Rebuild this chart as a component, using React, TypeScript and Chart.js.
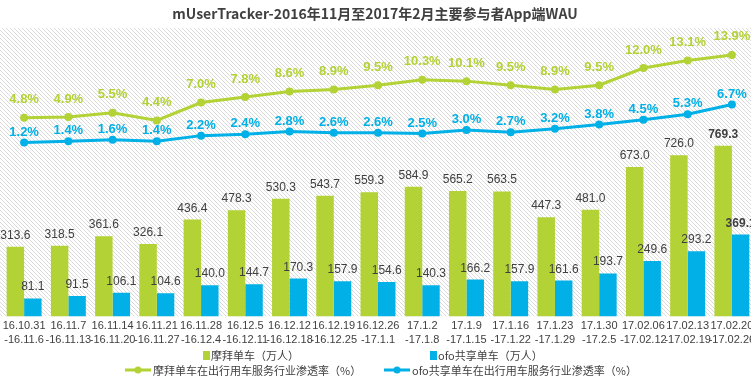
import React, { useEffect, useRef } from 'react';
import { Chart, registerables } from 'chart.js';

Chart.register(...registerables);

const TITLE = 'mUserTracker-2016年11月至2017年2月主要参与者App端WAU';

const weekStart = ['16.10.31', '16.11.7', '16.11.14', '16.11.21', '16.11.28', '16.12.5', '16.12.12', '16.12.19', '16.12.26', '17.1.2', '17.1.9', '17.1.16', '17.1.23', '17.1.30', '17.02.06', '17.02.13', '17.02.20'];
const weekEnd = ['-16.11.6', '-16.11.13', '-16.11.20', '-16.11.27', '-16.12.4', '-16.12.11', '-16.12.18', '-16.12.25', '-17.1.1', '-17.1.8', '-17.1.15', '-17.1.22', '-17.1.29', '-17.2.5', '-17.02.12', '-17.02.19', '-17.02.26'];

const mobikeUsers = [313.6, 318.5, 361.6, 326.1, 436.4, 478.3, 530.3, 543.7, 559.3, 584.9, 565.2, 563.5, 447.3, 481.0, 673.0, 726.0, 769.3];
const ofoUsers = [81.1, 91.5, 106.1, 104.6, 140.0, 144.7, 170.3, 157.9, 154.6, 140.3, 166.2, 157.9, 161.6, 193.7, 249.6, 293.2, 369.1];
const mobikeRate = [4.8, 4.9, 5.5, 4.4, 7.0, 7.8, 8.6, 8.9, 9.5, 10.3, 10.1, 9.5, 8.9, 9.5, 12.0, 13.1, 13.9];
const ofoRate = [1.2, 1.4, 1.6, 1.4, 2.2, 2.4, 2.8, 2.6, 2.6, 2.5, 3.0, 2.7, 3.2, 3.8, 4.5, 5.3, 6.7];

const legendNames = ['摩拜单车（万人）', 'ofo共享单车（万人）', '摩拜单车在出行用车服务行业渗透率（%）', 'ofo共享单车在出行用车服务行业渗透率（%）'];

const GREEN = '#b2d235';
const BLUE = '#00b0e6';
const TEXT = '#404040';
const OFFSET = 10; // canvas is shifted left by this many px
const CJK = '"Noto Sans CJK SC", "Noto Sans", sans-serif';
const NUM = '"Liberation Sans", Arial, sans-serif';

export default function App() {
  const ref = useRef<HTMLCanvasElement | null>(null);

  useEffect(() => {
    document.body.style.margin = '0';
    const canvas = ref.current;
    if (!canvas) return;

    const pc = document.createElement('canvas');
    pc.width = 4;
    pc.height = 4;
    const pctx = pc.getContext('2d')!;
    pctx.fillStyle = '#ffffff';
    pctx.fillRect(0, 0, 4, 4);
    pctx.fillStyle = '#dadada';
    for (let i = 0; i < 4; i++) pctx.fillRect(i, i, 1, 1);

    const bgPlugin = {
      id: 'bg',
      beforeDraw(chart: any) {
        const { ctx, chartArea, width } = chart;
        ctx.save();
        ctx.fillStyle = ctx.createPattern(pc, 'repeat');
        ctx.fillRect(0, chartArea.top, width, chartArea.bottom - chartArea.top);
        ctx.restore();
      },
    };

    const labelPlugin = {
      id: 'labels',
      afterDatasetsDraw(chart: any) {
        const { ctx } = chart;
        ctx.save();
        ctx.textAlign = 'center';
        // bars
        [0, 1].forEach((di) => {
          const meta = chart.getDatasetMeta(di);
          const data = chart.data.datasets[di].data as number[];
          const maxV = Math.max(...data);
          meta.data.forEach((el: any, j: number) => {
            const v = data[j];
            ctx.font = (v === maxV ? 'bold ' : '') + '12px ' + NUM;
            ctx.fillStyle = TEXT;
            ctx.textBaseline = 'alphabetic';
            ctx.fillText(v.toFixed(1), el.x, el.y - 8);
          });
        });
        // lines
        [2, 3].forEach((di) => {
          const meta = chart.getDatasetMeta(di);
          const data = chart.data.datasets[di].data as number[];
          const color = di === 2 ? GREEN : BLUE;
          const dy = di === 2 ? 18 : 10.5;
          meta.data.forEach((el: any, j: number) => {
            ctx.font = 'bold 13px ' + NUM;
            ctx.fillStyle = color;
            ctx.textBaseline = 'middle';
            ctx.fillText(data[j].toFixed(1) + '%', el.x, el.y - dy);
          });
        });
        ctx.restore();
      },
    };

    const titleLegendPlugin = {
      id: 'titleLegend',
      afterDraw(chart: any) {
        const { ctx } = chart;
        ctx.save();
        // title
        ctx.font = 'bold 14px ' + CJK;
        ctx.fillStyle = TEXT;
        ctx.textAlign = 'center';
        ctx.textBaseline = 'middle';
        ctx.fillText(TITLE, 375 + OFFSET, 14);
        // legend
        ctx.font = '11px ' + CJK;
        ctx.textAlign = 'left';
        ctx.fillStyle = GREEN;
        ctx.fillRect(203 + OFFSET, 351, 7, 9);
        ctx.fillStyle = TEXT;
        ctx.fillText(legendNames[0], 211 + OFFSET, 355.5);
        ctx.fillStyle = BLUE;
        ctx.fillRect(430 + OFFSET, 351, 7, 9);
        ctx.fillStyle = TEXT;
        ctx.fillText(legendNames[1], 438 + OFFSET, 355.5);
        const lineItem = (x: number, color: string, text: string) => {
          ctx.strokeStyle = color;
          ctx.lineWidth = 3;
          ctx.beginPath();
          ctx.moveTo(x + OFFSET, 370);
          ctx.lineTo(x + 26 + OFFSET, 370);
          ctx.stroke();
          ctx.fillStyle = color;
          ctx.beginPath();
          ctx.arc(x + 13 + OFFSET, 370, 3.5, 0, Math.PI * 2);
          ctx.fill();
          ctx.fillStyle = TEXT;
          ctx.fillText(text, x + 28 + OFFSET, 370.5);
        };
        lineItem(125, GREEN, legendNames[2]);
        lineItem(384, BLUE, legendNames[3]);
        ctx.restore();
      },
    };

    const chart = new Chart(canvas, {
      type: 'bar',
      data: {
        labels: weekStart.map((s, i) => [s, weekEnd[i]]),
        datasets: [
          {
            type: 'bar',
            label: legendNames[0],
            data: mobikeUsers,
            backgroundColor: GREEN,
            yAxisID: 'y',
            order: 2,
            categoryPercentage: 0.79,
            barPercentage: 1,
          },
          {
            type: 'bar',
            label: legendNames[1],
            data: ofoUsers,
            backgroundColor: BLUE,
            yAxisID: 'y',
            order: 2,
            categoryPercentage: 0.79,
            barPercentage: 1,
          },
          {
            type: 'line',
            label: legendNames[2],
            data: mobikeRate,
            borderColor: GREEN,
            backgroundColor: GREEN,
            borderWidth: 3,
            pointRadius: 4,
            pointBackgroundColor: GREEN,
            pointBorderWidth: 0,
            yAxisID: 'y2',
            order: 1,
          },
          {
            type: 'line',
            label: legendNames[3],
            data: ofoRate,
            borderColor: BLUE,
            backgroundColor: BLUE,
            borderWidth: 3,
            pointRadius: 4,
            pointBackgroundColor: BLUE,
            pointBorderWidth: 0,
            yAxisID: 'y2',
            order: 1,
          },
        ] as any,
      },
      options: {
        animation: false,
        responsive: false,
        devicePixelRatio: 1,
        layout: { padding: { left: 12, right: 6, top: 28, bottom: 28 } },
        plugins: {
          legend: { display: false },
          title: { display: false },
          tooltip: { enabled: false },
        },
        scales: {
          x: {
            grid: { display: false, drawTicks: false },
            border: { display: false },
            ticks: {
              color: TEXT,
              font: { family: NUM, size: 11, lineHeight: 1.3 },
              padding: 2,
              maxRotation: 0,
              autoSkip: false,
            },
          },
          y: {
            display: false,
            min: 0,
            max: 1300,
          },
          y2: {
            display: false,
            min: -24,
            max: 17.8,
          },
        },
      },
      plugins: [bgPlugin, labelPlugin, titleLegendPlugin],
    });

    return () => chart.destroy();
  }, []);

  return (
    <div style={{ position: 'fixed', left: 0, top: 0, width: 751, height: 377, overflow: 'hidden', background: '#fff' }}>
      <canvas ref={ref} width={770} height={377} style={{ position: 'absolute', left: -OFFSET, top: 0, width: 770, height: 377 }} />
    </div>
  );
}
